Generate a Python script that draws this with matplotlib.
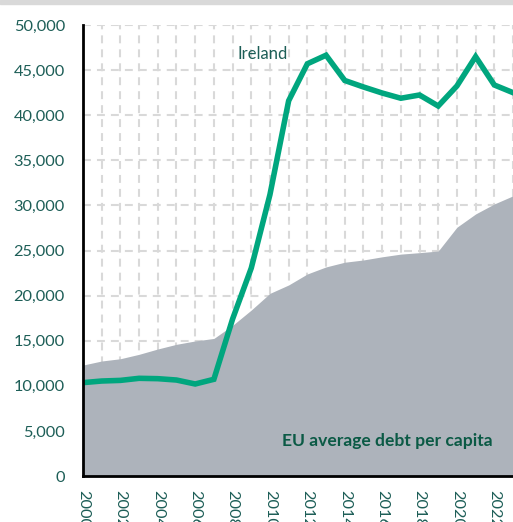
import numpy as np
import matplotlib.pyplot as plt
from matplotlib.patches import Rectangle

# --- DATA ---
years = np.arange(2000, 2024)

# Ireland: debt per capita
ireland = [10350, 10530, 10600, 10830, 10790, 10640, 10200, 10720,
           17400, 23050, 31200, 41600, 45700, 46650, 43850, 43130,
           42460, 41880, 42240, 41020, 43240, 46490, 43350, 42500]

# EU average debt per capita
eu_avg = [12300, 12750, 13000, 13490, 14080, 14600, 14970, 15250,
          16700, 18400, 20250, 21180, 22400, 23180, 23700, 23950,
          24300, 24600, 24760, 24940, 27580, 29050, 30160, 31060]

y_ticks = np.arange(0, 50001, 5000)
x_ticks = np.arange(2000, 2024, 2)

# --- STYLE ---
plt.rcParams['font.family'] = ['Lato', 'DejaVu Sans']
text_col = '#1d5e57'
line_col = '#00a67e'
area_col = '#adb3bb'
grid_col = '#d9d9d9'

fig = plt.figure(figsize=(5.13, 5.22), dpi=100)
ax = fig.add_axes([83 / 513, 46 / 522, 430 / 513, 451 / 522])

# thin band across the top of the figure
fig.patches.append(Rectangle((0, 1 - 4 / 522), 1, 4 / 522, transform=fig.transFigure,
                             color=grid_col, zorder=0))

ax.fill_between(years, 0, eu_avg, color=area_col, lw=0, zorder=2)
ax.plot(years, ireland, color=line_col, lw=4, solid_joinstyle='miter', zorder=3)

ax.set_xlim(2000, 2000 + 430 / 19.05)
ax.set_ylim(0, 50000)

ax.set_yticks(y_ticks)
ax.set_yticklabels([f'{v:,}' for v in y_ticks])
ax.set_xticks(x_ticks)
ax.set_xticklabels([str(y) for y in x_ticks], rotation=-90, va='top')
ax.set_xticks(years, minor=True)

ax.tick_params(axis='both', length=0, labelsize=11.8, labelcolor=text_col)
ax.tick_params(axis='y', pad=13)
ax.tick_params(axis='x', pad=10)
ax.tick_params(axis='x', which='minor', length=0)

# dashed grid behind the shaded area
dash = (0, (3.8, 2.9))
ax.grid(True, which='both', axis='x', color=grid_col, lw=1.5, linestyle=dash, zorder=1)
ax.grid(True, which='major', axis='y', color=grid_col, lw=1.5, linestyle=dash, zorder=1)
ax.set_axisbelow(True)

for side in ('top', 'right'):
    ax.spines[side].set_visible(False)
for side in ('left', 'bottom'):
    ax.spines[side].set_linewidth(2)
    ax.spines[side].set_color('black')
    ax.spines[side].set_zorder(4)

ax.text(2009.6, 46800, 'Ireland', color=text_col, fontsize=12,
        ha='center', va='center', zorder=5)
ax.text(2016.3, 3900, 'EU average debt per capita', color='#0b5a45',
        fontsize=12.6, fontweight='bold', ha='center', va='center', zorder=5)

fig.savefig('out.png', dpi=100)
